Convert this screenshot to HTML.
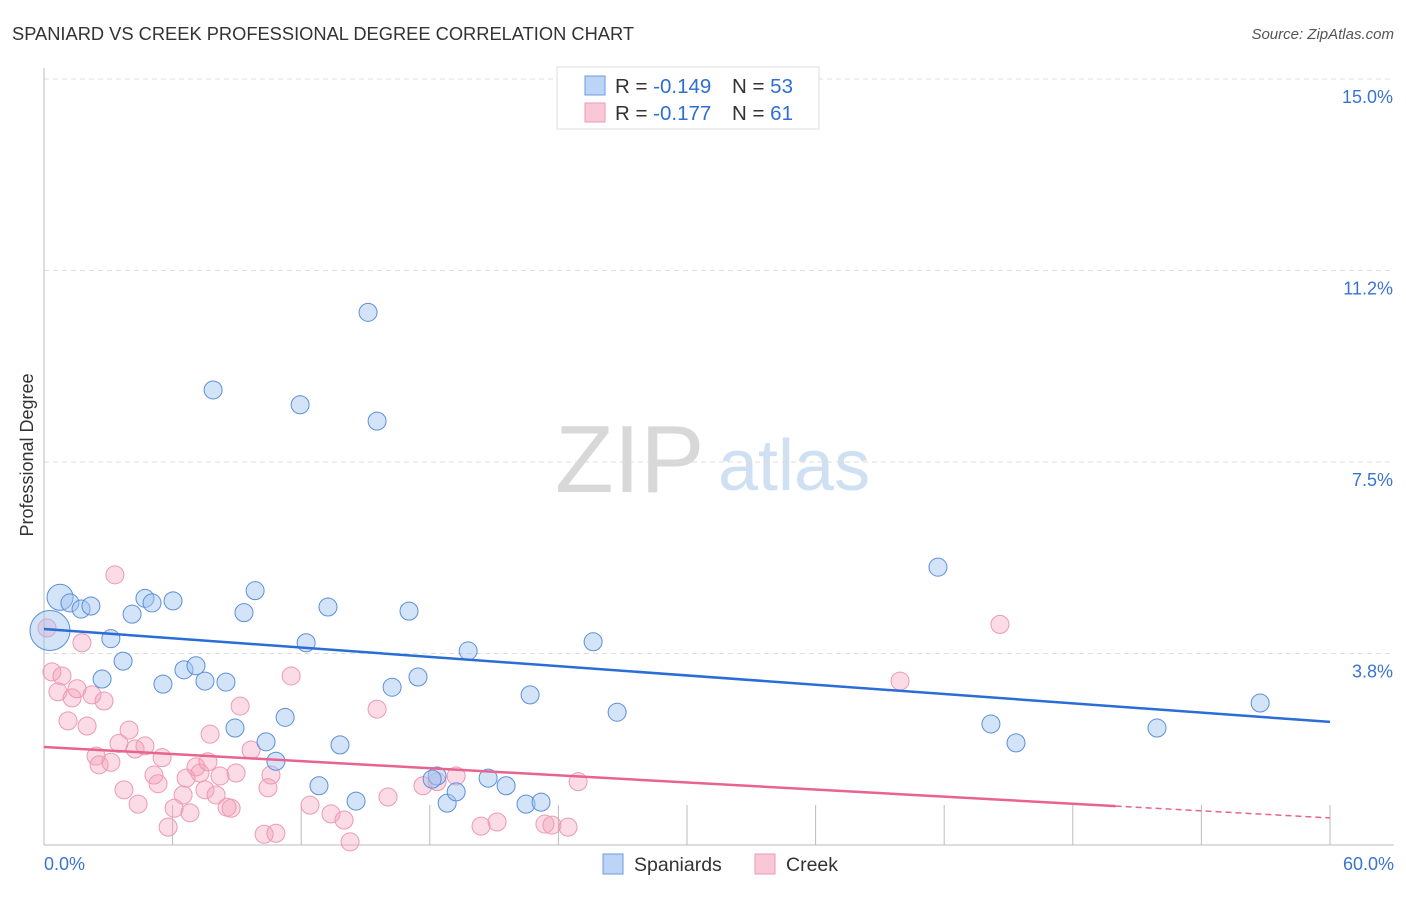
<!DOCTYPE html>
<html><head><meta charset="utf-8"><style>
body{margin:0;background:#fff;font-family:"Liberation Sans",sans-serif;}
svg text{font-family:"Liberation Sans",sans-serif;}
</style></head><body>
<svg id="chart" width="1406" height="892">
<text x="12" y="40" font-size="18.3" fill="#333">SPANIARD VS CREEK PROFESSIONAL DEGREE CORRELATION CHART</text>
<text x="1394" y="39" font-size="15" fill="#555" text-anchor="end" font-style="italic">Source: ZipAtlas.com</text>
<g>
<text x="555" y="492" font-size="96" fill="#d8d8d8" font-family="Liberation Serif">ZIP</text>
<text x="718" y="490" font-size="72" fill="#cfe0f3">atlas</text>
</g>
<g id="grid"></g><g id="axes"></g><g id="marks"></g>
<text transform="translate(33,455) rotate(-90)" font-size="18" fill="#333" text-anchor="middle">Professional Degree</text>
<g>
<rect x="557" y="67" width="262" height="62" fill="#fff" stroke="#ddd"/>
<rect x="585" y="76" width="20" height="19" fill="#bcd4f5" stroke="#6b9be0"/>
<rect x="585" y="103" width="20" height="19" fill="#f9c8d6" stroke="#ec9ab3"/>
<text x="615" y="93" font-size="20.5" fill="#333">R = <tspan fill="#2f6fd4">-0.149</tspan></text>
<text x="732" y="93" font-size="20.5" fill="#333">N = <tspan fill="#2f6fd4">53</tspan></text>
<text x="615" y="120" font-size="20.5" fill="#333">R = <tspan fill="#2f6fd4">-0.177</tspan></text>
<text x="732" y="120" font-size="20.5" fill="#333">N = <tspan fill="#2f6fd4"> 61</tspan></text>
</g>
<g>
<rect x="603" y="854" width="20" height="20" fill="#bcd4f5" stroke="#6b9be0"/>
<text x="634" y="871" font-size="19.5" fill="#333">Spaniards</text>
<rect x="755" y="854" width="20" height="20" fill="#f9c8d6" stroke="#ec9ab3"/>
<text x="786" y="871" font-size="19.5" fill="#333">Creek</text>
</g>
</svg>
<script>
const yTicks=[3.75,7.5,11.25,15];
const yTickLabels=["3.8%","7.5%","11.2%","15.0%"];
const xTicks=[0,6,12,18,24,30,36,42,48,54,60];
const blueX=[0.75,0.28,1.21,1.73,2.19,3.12,3.69,2.71,4.11,4.71,5.04,6.02,5.55,6.53,7.09,7.51,8.49,9.33,9.85,8.91,10.36,11.25,10.82,11.95,12.23,7.89,13.25,12.83,13.81,14.56,15.12,15.54,16.24,17.03,17.45,18.34,18.11,18.81,19.23,19.79,20.72,21.56,22.49,23.19,22.68,25.62,26.74,41.71,44.18,45.35,51.93,56.74];
const blueY=[4.85,4.2,4.74,4.62,4.68,4.04,3.6,3.25,4.52,4.83,4.74,4.78,3.15,3.43,3.51,3.21,3.19,4.55,4.98,2.29,2.02,2.5,1.64,8.62,3.96,8.91,4.66,1.16,1.96,0.86,10.43,8.3,3.09,4.58,3.29,1.35,1.29,0.82,1.04,3.8,1.31,1.16,0.8,0.84,2.94,3.98,2.6,5.44,2.37,2.0,2.29,2.78];
const blueR=[13,20];
const pinkX=[3.31,0.14,1.77,0.37,0.84,0.65,1.31,1.54,2.24,2.8,1.12,2.01,2.43,2.57,3.12,3.5,3.97,4.25,4.71,5.51,5.13,3.73,4.39,5.32,5.79,6.07,6.49,6.81,6.63,7.09,7.28,7.65,7.75,7.51,8.03,8.21,8.54,8.73,8.96,9.15,9.66,10.59,10.45,10.27,10.82,11.53,12.41,13.39,14.0,14.28,15.54,16.05,17.68,18.34,19.23,20.39,21.14,23.37,23.7,24.45,24.92,39.94,44.6];
const pinkY=[5.29,4.25,3.96,3.39,3.31,3.0,2.88,3.06,2.94,2.82,2.43,2.33,1.74,1.57,1.62,1.99,2.25,1.88,1.94,1.71,1.37,1.08,0.8,1.2,0.35,0.72,0.98,0.63,1.31,1.53,1.41,1.63,2.17,1.08,0.98,1.35,0.74,0.72,1.41,2.72,1.86,1.37,1.12,0.21,0.23,3.31,0.78,0.61,0.49,0.06,2.66,0.94,1.16,1.24,1.35,0.37,0.45,0.41,0.39,0.35,1.24,3.21,4.32];
const blueTrend=[4.23,2.41];
const pinkTrend=[1.92,0.53];
const pinkSolidEnd=50;
const NS="http://www.w3.org/2000/svg";
const X=v=>44+v*(1330-44)/60, Y=v=>845-v*51.07;
function mk(t,a,p){const e=document.createElementNS(NS,t);for(const k in a)e.setAttribute(k,a[k]);p.appendChild(e);return e;}
const grid=document.getElementById('grid'),axes=document.getElementById('axes'),marks=document.getElementById('marks');
yTicks.forEach((t,i)=>{
 const l=mk('line',{x1:44,x2:1394,y1:Y(t),y2:Y(t),stroke:'#ddd','stroke-dasharray':'5,4'},grid);
 
 
 const tx=mk('text',{x:1393,y:Y(t)+24,'font-size':18,fill:'#3a74d0','text-anchor':'end'},axes);
 tx.textContent=yTickLabels[i];
 
 
});
const ax=mk('line',{x1:44,x2:1394,y1:845,y2:845,stroke:'#bbb'},axes);


const ay=mk('line',{x1:44,x2:44,y1:68,y2:845,stroke:'#bbb'},axes);


xTicks.forEach(t=>{if(t===0)return;const l=mk('line',{x1:X(t),x2:X(t),y1:805,y2:845,stroke:'#bbb'},axes);
 
 });
const x0=mk('text',{x:44,y:870,'font-size':18,fill:'#3a74d0'},axes);x0.textContent='0.0%';


const x1=mk('text',{x:1394,y:870,'font-size':18,fill:'#3a74d0','text-anchor':'end'},axes);x1.textContent='60.0%';


pinkX.forEach((v,i)=>{const c=mk('circle',{cx:X(v),cy:Y(pinkY[i]),r:9,fill:'rgba(244,160,186,0.38)',stroke:'#ec9ab3','stroke-width':1},marks);
 
 });
blueX.forEach((v,i)=>{const c=mk('circle',{cx:X(v),cy:Y(blueY[i]),r:blueR[i]||9,fill:'rgba(160,196,240,0.45)',stroke:'#5b8fdc','stroke-width':1},marks);
 
 });
const pAt=x=>pinkTrend[0]+(pinkTrend[1]-pinkTrend[0])*x/60;
const bl=mk('line',{x1:X(0),y1:Y(blueTrend[0]),x2:X(60),y2:Y(blueTrend[1]),stroke:'#2a6dd6','stroke-width':2.5},marks);


const pl=mk('line',{x1:X(0),y1:Y(pAt(0)),x2:X(pinkSolidEnd),y2:Y(pAt(pinkSolidEnd)),stroke:'#e8638e','stroke-width':2.5},marks);


const pd=mk('line',{x1:X(pinkSolidEnd),y1:Y(pAt(pinkSolidEnd)),x2:X(60),y2:Y(pAt(60)),stroke:'#e8638e','stroke-width':1.5,'stroke-dasharray':'6,4'},marks);


</script>
</body></html>
